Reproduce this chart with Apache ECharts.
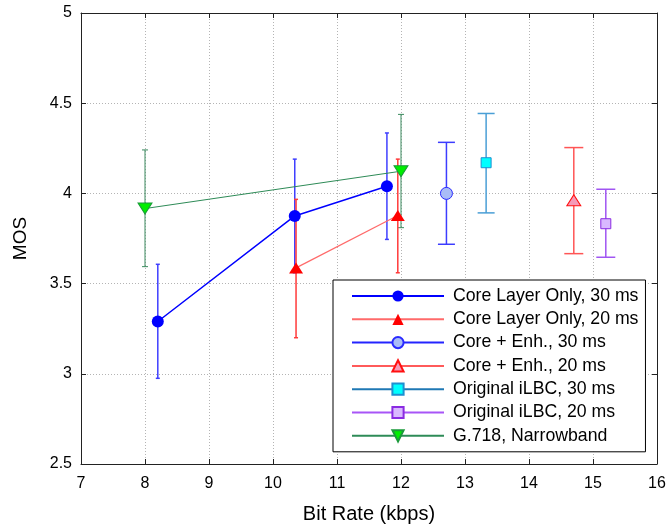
<!DOCTYPE html>
<html>
<head>
<meta charset="utf-8">
<script src="https://cdn.jsdelivr.net/npm/echarts@6/dist/echarts.min.js"></script>
<style>
  html, body { margin: 0; padding: 0; background: #fff; }
  #chart { width: 669px; height: 529px; }
</style>
</head>
<body>
<div id="chart"></div>
<script>
// Axis ranges and tick spacing
const xTicks = [7, 8, 9, 10, 11, 12, 13, 14, 15, 16];
const yTicks = [2.5, 3, 3.5, 4, 4.5, 5];

// Series names (legend order)
const seriesNames = [
  'Core Layer Only, 30 ms',
  'Core Layer Only, 20 ms',
  'Core + Enh., 30 ms',
  'Core + Enh., 20 ms',
  'Original iLBC, 30 ms',
  'Original iLBC, 20 ms',
  'G.718, Narrowband'
];

// Bit rate (kbps), mean MOS and confidence interval bounds per configuration
const coreOnly30Rate = [8.2, 10.34, 11.78];
const coreOnly30Mos  = [3.29, 3.875, 4.04];
const coreOnly30Lo   = [2.975, 3.56, 3.745];
const coreOnly30Hi   = [3.607, 4.19, 4.335];

const coreOnly20Rate = [10.36, 11.95];
const coreOnly20Mos  = [3.587, 3.878];
const coreOnly20Lo   = [3.2, 3.56];
const coreOnly20Hi   = [3.967, 4.19];

const coreEnh30Rate = [12.71];
const coreEnh30Mos  = [4.0];
const coreEnh30Lo   = [3.718];
const coreEnh30Hi   = [4.283];

const coreEnh20Rate = [14.7];
const coreEnh20Mos  = [3.962];
const coreEnh20Lo   = [3.666];
const coreEnh20Hi   = [4.254];

const ilbc30Rate = [13.33];
const ilbc30Mos  = [4.17];
const ilbc30Lo   = [3.892];
const ilbc30Hi   = [4.443];

const ilbc20Rate = [15.2];
const ilbc20Mos  = [3.832];
const ilbc20Lo   = [3.646];
const ilbc20Hi   = [4.023];

const g718Rate = [8.0, 12.0];
const g718Mos  = [3.916, 4.123];
const g718Lo   = [3.594, 3.81];
const g718Hi   = [4.241, 4.438];

const FONT = '"Liberation Sans", Arial, sans-serif';

function pairs(xs, ys) {
  return xs.map((x, i) => [x, ys[i]]);
}

// Vertical error bars with horizontal caps, positioned through the axes
function errorBars(rates, lo, hi, color, capHalf, width) {
  return {
    type: 'custom',
    z: 1,
    silent: true,
    data: rates.map((r, i) => [r, lo[i], hi[i]]),
    encode: { x: 0, y: [1, 2] },
    renderItem(params, api) {
      const x = api.value(0);
      const top = api.coord([x, api.value(2)]);
      const bot = api.coord([x, api.value(1)]);
      const style = { stroke: color, lineWidth: width };
      return {
        type: 'group',
        children: [
          { type: 'line', shape: { x1: top[0], y1: top[1], x2: bot[0], y2: bot[1] }, style },
          { type: 'line', shape: { x1: top[0] - capHalf, y1: top[1], x2: top[0] + capHalf, y2: top[1] }, style },
          { type: 'line', shape: { x1: bot[0] - capHalf, y1: bot[1], x2: bot[0] + capHalf, y2: bot[1] }, style }
        ]
      };
    }
  };
}

function lineSeries(name, xs, ys, opts) {
  return Object.assign({
    type: 'line',
    name: name,
    z: 3,
    data: pairs(xs, ys),
    showAllSymbol: true,
    animation: false
  }, opts);
}

const axisLineStyle = { color: '#222', width: 1 };

const option = {
  animation: false,
  backgroundColor: '#fff',
  textStyle: { fontFamily: FONT },
  grid: { left: 81, top: 13, width: 576, height: 453, containLabel: false },
  xAxis: [
    {
      type: 'value', min: xTicks[0], max: xTicks[xTicks.length - 1], interval: 1, position: 'bottom',
      name: 'Bit Rate (kbps)', nameLocation: 'middle', nameGap: 40,
      nameTextStyle: { fontSize: 20, color: '#000', fontFamily: FONT },
      axisLine: { show: true, onZero: false, lineStyle: axisLineStyle },
      axisTick: { show: true, inside: true, length: 5, lineStyle: axisLineStyle },
      axisLabel: { fontSize: 16, color: '#000', margin: 12, fontFamily: FONT },
      splitLine: { show: true, lineStyle: { color: '#b4b4b4', type: [1, 2], width: 1 } }
    },
    {
      type: 'value', min: xTicks[0], max: xTicks[xTicks.length - 1], interval: 1, position: 'top',
      axisLine: { show: true, onZero: false, lineStyle: axisLineStyle },
      axisTick: { show: true, inside: true, length: 5, lineStyle: axisLineStyle },
      axisLabel: { show: false },
      splitLine: { show: false }
    }
  ],
  yAxis: [
    {
      type: 'value', min: yTicks[0], max: yTicks[yTicks.length - 1], interval: 0.5, position: 'left',
      name: 'MOS', nameLocation: 'middle', nameGap: 51,
      nameTextStyle: { fontSize: 19, color: '#000', fontFamily: FONT },
      axisLine: { show: true, onZero: false, lineStyle: axisLineStyle },
      axisTick: { show: true, inside: true, length: 5, lineStyle: axisLineStyle },
      axisLabel: { fontSize: 16, color: '#000', margin: 9, fontFamily: FONT },
      splitLine: { show: true, lineStyle: { color: '#b4b4b4', type: [1, 2], width: 1 } }
    },
    {
      type: 'value', min: yTicks[0], max: yTicks[yTicks.length - 1], interval: 0.5, position: 'right',
      axisLine: { show: true, onZero: false, lineStyle: axisLineStyle },
      axisTick: { show: true, inside: true, length: 5, lineStyle: axisLineStyle },
      axisLabel: { show: false },
      splitLine: { show: false }
    }
  ],
  legend: {
    data: seriesNames,
    orient: 'vertical',
    left: 333,
    top: 280,
    padding: [7, 7, 7, 18],
    itemWidth: 92,
    itemHeight: 14,
    itemGap: 5.3,
    backgroundColor: '#fff',
    borderColor: '#000',
    borderWidth: 1,
    borderRadius: 0,
    symbolRotate: 'inherit',
    textStyle: { fontSize: 17.7, color: '#000', fontFamily: FONT, padding: [0, 0, 0, 4] }
  },
  series: [
    errorBars(g718Rate, g718Lo, g718Hi, '#3a8a5e', 3, 1),
    errorBars(coreOnly30Rate, coreOnly30Lo, coreOnly30Hi, '#3f3fff', 2, 1.5),
    errorBars(coreOnly20Rate, coreOnly20Lo, coreOnly20Hi, '#ff3a3a', 2, 1.5),
    errorBars(coreEnh30Rate, coreEnh30Lo, coreEnh30Hi, '#3c3cff', 8.5, 1.5),
    errorBars(coreEnh20Rate, coreEnh20Lo, coreEnh20Hi, '#ff5555', 9.5, 1.5),
    errorBars(ilbc30Rate, ilbc30Lo, ilbc30Hi, '#4a9fd6', 8.5, 1.5),
    errorBars(ilbc20Rate, ilbc20Lo, ilbc20Hi, '#a055f2', 9.5, 1.5),

    lineSeries(seriesNames[0], coreOnly30Rate, coreOnly30Mos, {
      symbol: 'circle', symbolSize: 12,
      lineStyle: { color: '#0000ff', width: 1.5 },
      itemStyle: { color: '#0000ff', borderColor: '#0000ff', borderWidth: 0 }
    }),
    lineSeries(seriesNames[1], coreOnly20Rate, coreOnly20Mos, {
      symbol: 'triangle', symbolSize: [14, 11],
      lineStyle: { color: '#ff6a6a', width: 1.2 },
      itemStyle: { color: '#ff0000', borderColor: '#ff0000', borderWidth: 0 }
    }),
    lineSeries(seriesNames[2], coreEnh30Rate, coreEnh30Mos, {
      symbol: 'circle', symbolSize: 12,
      lineStyle: { color: '#2424ff', width: 1 },
      itemStyle: { color: '#a9bcf7', borderColor: '#2a2aff', borderWidth: 1 }
    }),
    lineSeries(seriesNames[3], coreEnh20Rate, coreEnh20Mos, {
      symbol: 'triangle', symbolSize: [14, 11],
      lineStyle: { color: '#ff5a5a', width: 1.2 },
      itemStyle: { color: '#f59ab8', borderColor: '#ff1010', borderWidth: 1 }
    }),
    lineSeries(seriesNames[4], ilbc30Rate, ilbc30Mos, {
      symbol: 'rect', symbolSize: 10,
      lineStyle: { color: '#1f78b4', width: 1 },
      itemStyle: { color: '#00ffff', borderColor: '#1f8fd0', borderWidth: 1 }
    }),
    lineSeries(seriesNames[5], ilbc20Rate, ilbc20Mos, {
      symbol: 'rect', symbolSize: 10,
      lineStyle: { color: '#a855f7', width: 1.2 },
      itemStyle: { color: '#d9b8ff', borderColor: '#8a2be2', borderWidth: 1 }
    }),
    lineSeries(seriesNames[6], g718Rate, g718Mos, {
      symbol: 'triangle', symbolRotate: 180, symbolSize: [14, 11],
      lineStyle: { color: '#2e8b57', width: 1 },
      itemStyle: { color: '#00ee00', borderColor: '#1a9a3a', borderWidth: 1 }
    })
  ]
};

const chart = echarts.init(document.getElementById('chart'), null, { renderer: 'canvas' });
chart.setOption(option);
</script>
</body>
</html>
